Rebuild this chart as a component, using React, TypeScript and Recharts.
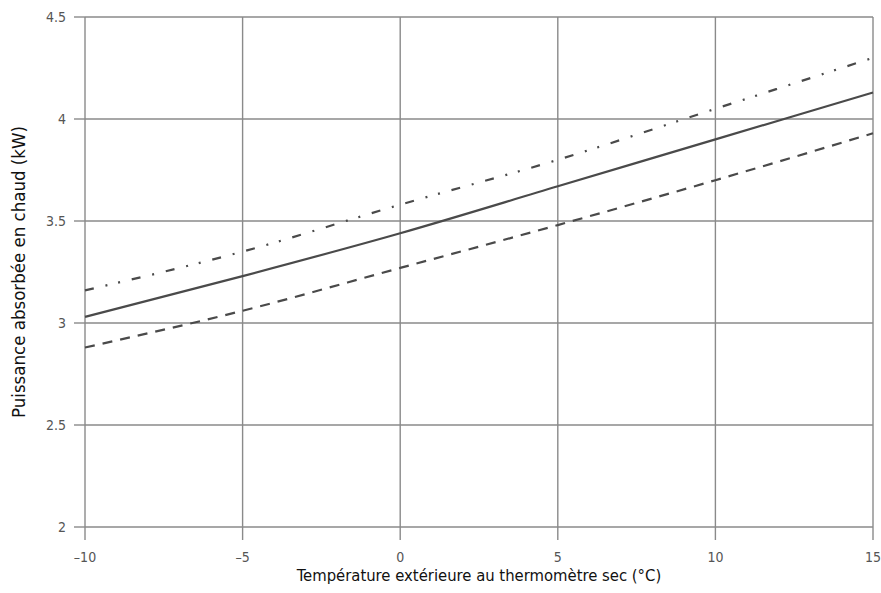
import { LineChart, Line, XAxis, YAxis, CartesianGrid } from 'recharts';

const temps = [-10, -5, 0, 5, 10, 15];
const solidKw = [3.03, 3.23, 3.44, 3.67, 3.9, 4.13];
const dashDotKw = [3.16, 3.35, 3.58, 3.8, 4.05, 4.3];
const dashedKw = [2.88, 3.06, 3.27, 3.48, 3.7, 3.93];
const xTicks = [-10, -5, 0, 5, 10, 15];
const yTicks = [2, 2.5, 3, 3.5, 4, 4.5];

const font = '"Liberation Sans Narrow", "DejaVu Sans Condensed", "Arial Narrow", sans-serif';
const gridColor = '#8a8a8a';
const lineColor = '#4a4a4a';

export default function App() {
  const chartData = temps.map((t, i) => ({
    t,
    solid: solidKw[i],
    dashDot: dashDotKw[i],
    dashed: dashedKw[i],
  }));

  return (
    <div style={{ position: 'absolute', left: 0, top: 0, background: '#fff' }}>
      <LineChart
        width={881}
        height={593}
        data={chartData}
        margin={{ top: 17, right: 8, left: 0, bottom: 0 }}
      >
        <CartesianGrid stroke={gridColor} strokeWidth={1.4} />
        <XAxis
          dataKey="t"
          type="number"
          domain={[-10, 15]}
          ticks={xTicks}
          height={66}
          axisLine={false}
          tickLine={{ stroke: gridColor, strokeWidth: 1.4 }}
          tickSize={13}
          tickMargin={12}
          tickFormatter={(v: number) => String(v).replace('-', '–')}
          tick={{ fill: '#555', fontSize: 14, fontFamily: font }}
          label={{
            value: 'Température extérieure au thermomètre sec (°C)',
            position: 'insideBottom',
            offset: 12,
            style: { fill: '#111', fontSize: 16.5, fontFamily: font },
          }}
        />
        <YAxis
          type="number"
          domain={[2, 4.5]}
          ticks={yTicks}
          width={85}
          axisLine={false}
          tickLine={{ stroke: gridColor, strokeWidth: 1.4 }}
          tickSize={11}
          tickMargin={8}
          tick={{ fill: '#555', fontSize: 14, fontFamily: font }}
          label={{
            value: 'Puissance absorbée en chaud (kW)',
            angle: -90,
            position: 'insideLeft',
            offset: 18,
            style: { textAnchor: 'middle', fill: '#111', fontSize: 18.5, fontFamily: font },
          }}
        />
        <Line
          type="monotone"
          dataKey="dashDot"
          stroke={lineColor}
          strokeWidth={2.2}
          strokeDasharray="9 12 2 11 2 12 9 12 2 12"
          dot={false}
          isAnimationActive={false}
        />
        <Line
          type="monotone"
          dataKey="solid"
          stroke={lineColor}
          strokeWidth={2.2}
          dot={false}
          isAnimationActive={false}
        />
        <Line
          type="monotone"
          dataKey="dashed"
          stroke={lineColor}
          strokeWidth={2.2}
          strokeDasharray="10 8"
          dot={false}
          isAnimationActive={false}
        />
      </LineChart>
    </div>
  );
}
